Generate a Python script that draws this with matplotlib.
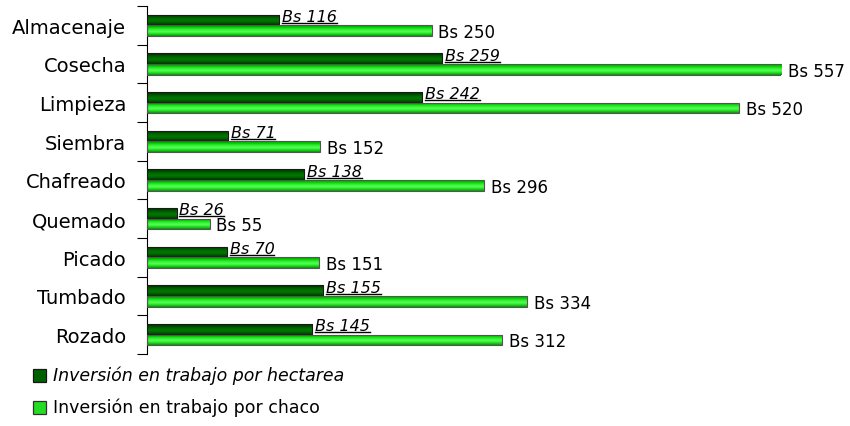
import matplotlib.pyplot as plt
from matplotlib.lines import Line2D
from matplotlib.patches import Rectangle
from matplotlib.colors import LinearSegmentedColormap
import numpy as np

# Labour categories, listed bottom to top
categories = ["Rozado", "Tumbado", "Picado", "Quemado", "Chafreado",
              "Siembra", "Limpieza", "Cosecha", "Almacenaje"]
per_hectare = [145, 155, 70, 26, 138, 71, 242, 259, 116]
per_chaco = [312, 334, 151, 55, 296, 152, 520, 557, 250]

series_names = ["Inversión en trabajo por hectarea",
                "Inversión en trabajo por chaco"]

FONT = "DejaVu Sans"

fig = plt.figure(figsize=(8.5, 4.27), dpi=100)
W, H = 850, 427
ax = fig.add_axes([147 / W, 1 - 355 / H, (781 - 147) / W, (355 - 7) / H])

y = np.arange(len(categories))
bh = 0.28

dark_grad = ["#002a00", "#004d00", "#006a00", "#007a00", "#005a00", "#003000"]
light_grad = ["#00a000", "#00d000", "#33f033", "#55ff55", "#22dd22", "#009900"]


def gradient_bars(bars, colors):
    cmap = LinearSegmentedColormap.from_list("g", colors[::-1])
    grad = np.linspace(0, 1, 64).reshape(-1, 1)
    for b in bars:
        x0, y0 = b.get_x(), b.get_y()
        w, h = b.get_width(), b.get_height()
        im = ax.imshow(grad, extent=(x0, x0 + w, y0, y0 + h), origin="lower",
                       aspect="auto", cmap=cmap, zorder=2, interpolation="bilinear")
        im.set_clip_path(b)


dark = ax.barh(y + bh / 2, per_hectare, height=bh, facecolor="none",
               edgecolor="#1a1a1a", linewidth=0.8, zorder=3)
light = ax.barh(y - bh / 2, per_chaco, height=bh, facecolor="none",
                edgecolor="#555555", linewidth=0.8, zorder=3)
gradient_bars(dark, dark_grad)
gradient_bars(light, light_grad)

ax.set_xlim(0, 557)
ax.set_ylim(-0.5, len(categories) - 0.5)
for s in ["top", "right", "bottom"]:
    ax.spines[s].set_visible(False)
ax.spines["left"].set_linewidth(0.8)
ax.set_xticks([])
ax.set_yticks(y)
ax.set_yticklabels(categories, fontsize=14, fontfamily=FONT, color="black")
ax.tick_params(axis="y", length=0, pad=15)
ax.set_yticks(np.arange(-0.5, len(categories), 1.0), minor=True)
ax.tick_params(axis="y", which="minor", length=7, width=0.8, direction="out")

# value labels
dark_texts = []
for yi, v in zip(y, per_hectare):
    t = ax.text(v + 2.5, yi + 0.11, f"Bs {v}", fontsize=11.5, style="italic",
                fontfamily=FONT, ha="left", va="baseline", clip_on=False)
    dark_texts.append((t, yi + 0.11))
for yi, v in zip(y, per_chaco):
    ax.text(v + 6, yi - 0.17, f"Bs {v}", fontsize=12, fontfamily=FONT,
            ha="left", va="center", clip_on=False)

# underline the italic per-hectare labels
fig.canvas.draw()
renderer = fig.canvas.get_renderer()
inv = fig.transFigure.inverted()
for t, base in dark_texts:
    bb = t.get_window_extent(renderer)
    by = ax.transData.transform((0, base))[1] - 2.0
    (x0, yy), (x1, _) = inv.transform([(bb.x0, by), (bb.x1, by)])
    fig.add_artist(Line2D([x0, x1], [yy, yy], color="black", linewidth=1.0))

# legend
legend_faces = ["#006000", "#22dd22"]
legend_edges = ["#1a1a1a", "#333333"]
legend_styles = ["italic", "normal"]
for i, (name, fc, ec, st) in enumerate(zip(series_names, legend_faces,
                                            legend_edges, legend_styles)):
    cy = 376 + i * 32
    fig.add_artist(Rectangle((33 / W, 1 - (cy + 6.5) / H), 13 / W, 13 / H,
                             facecolor=fc, edgecolor=ec, linewidth=0.9,
                             transform=fig.transFigure))
    fig.text(53 / W, 1 - cy / H, name, fontsize=12.5, fontfamily=FONT,
             style=st, ha="left", va="center")

fig.savefig("out.png", dpi=100)
